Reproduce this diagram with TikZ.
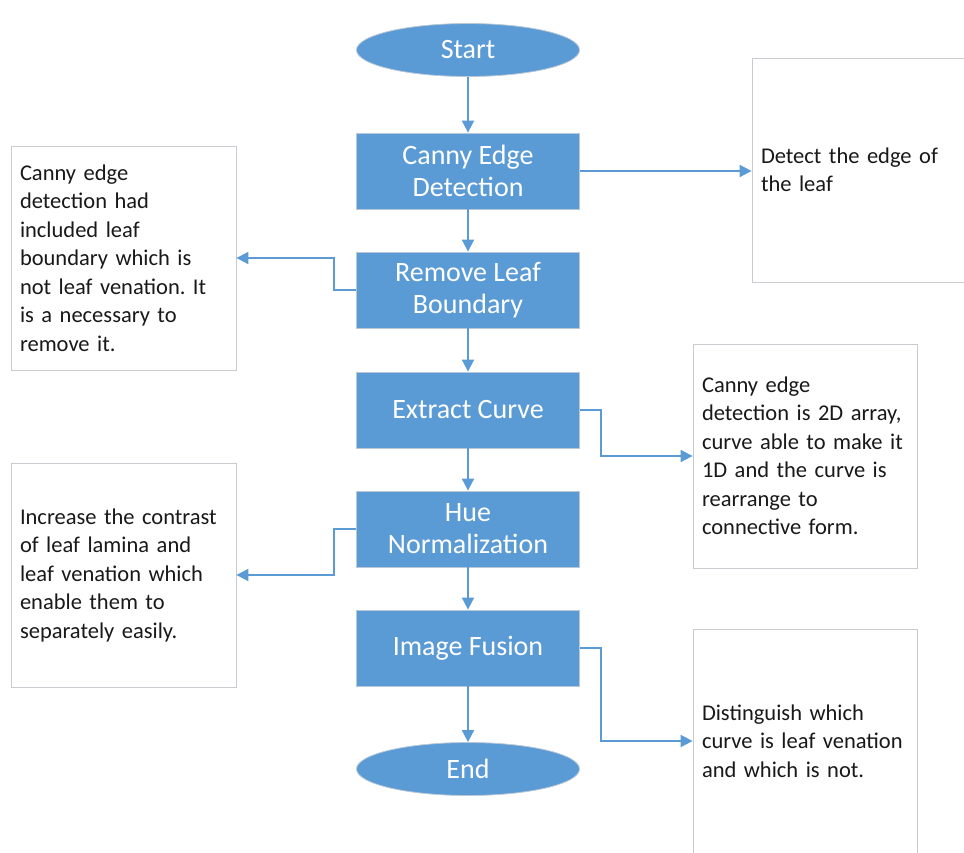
\documentclass[tikz,border=0pt]{standalone}
\usepackage{fontspec}
\setmainfont{Carlito}
\usetikzlibrary{arrows.meta,shapes.geometric}
\definecolor{stepblue}{RGB}{91,155,213}
\definecolor{sidegray}{RGB}{200,204,208}
\definecolor{stepedge}{RGB}{185,200,215}
\frenchspacing

\begin{document}
\begin{tikzpicture}[x=1pt,y=-1pt]
	\tikzstyle{every node}=[inner sep=0pt]
	\tikzstyle{flow}=[draw=stepedge, line width=0.8pt, fill=stepblue, text=white, minimum width=223pt, align=center, font=\fontsize{28}{32}\selectfont]
	\tikzstyle{stepbox}=[flow, rectangle, minimum height=76pt]
	\tikzstyle{terminal}=[flow, ellipse, minimum height=53pt]
	\tikzstyle{sidebox}=[draw=sidegray, line width=0.8pt, fill=white, inner xsep=9pt, minimum height=224pt, align=left, text=black!90, font=\fontsize{22.5}{28.5}\selectfont]
	\tikzstyle{arr}=[draw=stepblue, line width=1.8pt, -{Triangle[width=12pt,length=12pt]}]
	\useasboundingbox (0,0) rectangle (964,852);
	% main steps
	\draw (468,50) node (start) [terminal] {Start};
	\draw (468,171) node (canny) [stepbox] {Canny Edge\\Detection};
	\draw (468,290) node (remove) [stepbox] {Remove Leaf\\Boundary};
	\draw (468,410) node (extract) [stepbox] {Extract Curve};
	\draw (468,529) node (hue) [stepbox] {Hue\\Normalization};
	\draw (468,648) node (fusion) [stepbox] {Image Fusion};
	\draw (468,769) node (end) [terminal] {End};
	% notes
	\draw (859,170) node (detect) [sidebox, text width=196pt] {Detect the edge of\\the leaf};
	\draw (123.5,258) node (noteremove) [sidebox, text width=207pt] {Canny edge\\detection had\\included leaf\\boundary which is\\not leaf venation. It\\is a necessary to\\remove it.};
	\draw (805,456) node (notecurve) [sidebox, text width=206pt] {Canny edge\\detection is 2D array,\\curve able to make it\\1D and the curve is\\rearrange to\\connective form.};
	\draw (123.5,575) node (notehue) [sidebox, text width=207pt] {Increase the contrast\\of leaf lamina and\\leaf venation which\\enable them to\\separately easily.};
	\draw (805,741) node (notefusion) [sidebox, text width=206pt] {Distinguish which\\curve is leaf venation\\and which is not.};
	% arrows
	\draw[arr] (start) -- (canny);
	\draw[arr] (canny) -- (remove);
	\draw[arr] (remove) -- (extract);
	\draw[arr] (extract) -- (hue);
	\draw[arr] (hue) -- (fusion);
	\draw[arr] (fusion) -- (end);
	\draw[arr] (canny.east) -- (detect.west |- canny.east);
	\draw[arr] (remove.west) -- ++(-22,0) |- (noteremove.east);
	\draw[arr] (extract.east) -- ++(21,0) |- (notecurve.west);
	\draw[arr] (hue.west) -- ++(-22,0) |- (notehue.east);
	\draw[arr] (fusion.east) -- ++(21,0) |- (notefusion.west);
\end{tikzpicture}
\end{document}
